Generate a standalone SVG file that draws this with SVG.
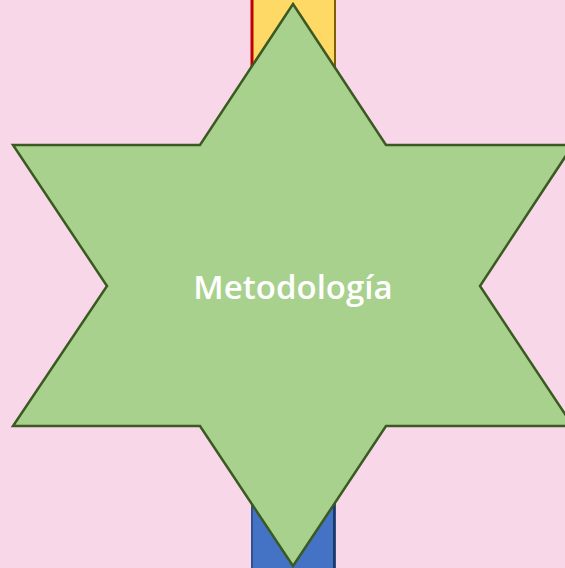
<svg xmlns="http://www.w3.org/2000/svg" width="565" height="568" viewBox="0 0 565 568">
<style>
.lbl{font-family:"Open Sans","Liberation Sans",sans-serif;font-weight:600;font-size:33px;fill:#ffffff}
</style>
<rect x="0" y="0" width="565" height="568" fill="#f8d7e9"/>
<g id="bar-top">
<rect x="252" y="-5" width="83" height="120" fill="#ffd966" stroke="#7f6000" stroke-width="2"/>
<line x1="252" y1="-5" x2="252" y2="115" stroke="#c00000" stroke-width="3"/>
</g>
<g id="bar-bottom">
<rect x="252" y="450" width="83" height="125" fill="#4472c4" stroke="#2f528f" stroke-width="2"/>
<line x1="334" y1="450" x2="334" y2="575" stroke="#1f3864" stroke-width="2"/>
</g>
<g id="star">
<polygon points="293,4 386,145 573,145 480,286 573,426 386,426 293,566 200,426 13,426 107,286 13,145 200,145" fill="#a9d18e" stroke="#3a5a22" stroke-width="2.5" stroke-linejoin="miter"/>
<text class="lbl" x="293" y="299" text-anchor="middle">Metodología</text>
</g>
</svg>
